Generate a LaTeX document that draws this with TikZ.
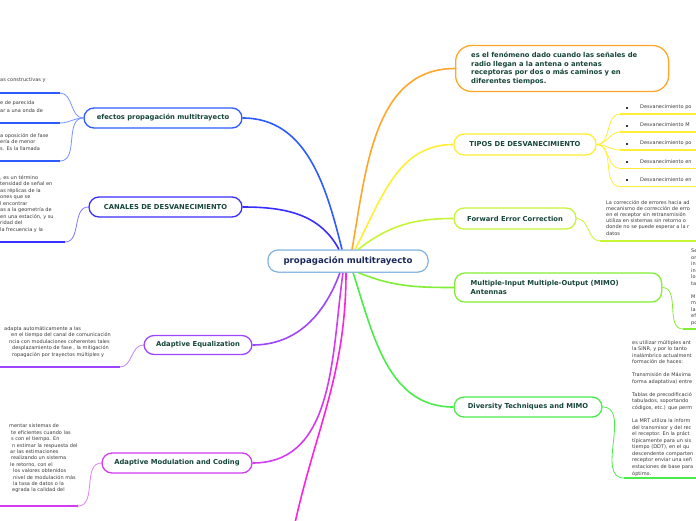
\documentclass[tikz,border=0pt]{standalone}
\usepackage{fontspec}
\setmainfont{DejaVu Sans}
\definecolor{hubC}{HTML}{7AAFE0}
\definecolor{hubT}{HTML}{1B2A5A}
\definecolor{nodeT}{HTML}{17463A}
\definecolor{smallT}{HTML}{3A3A3A}
\definecolor{orC}{HTML}{FFA62B}
\definecolor{yeC}{HTML}{FFEE33}
\definecolor{fecC}{HTML}{C6F535}
\definecolor{mimoC}{HTML}{82EE35}
\definecolor{divC}{HTML}{4CEB4C}
\definecolor{magC}{HTML}{FF22DD}
\definecolor{amcC}{HTML}{D43BF0}
\definecolor{aeC}{HTML}{9D45FF}
\definecolor{canC}{HTML}{3A2EFF}
\definecolor{efC}{HTML}{2E5BFF}
\begin{document}
\begin{tikzpicture}[x=1pt,y=-1pt,
  box/.style={draw, line width=1.3pt, fill=white, rounded corners=10pt,
    font=\fontsize{6.8}{8.5}\selectfont\bfseries, text=nodeT, inner sep=0pt},
  small/.style={font=\fontsize{5}{6.5}\selectfont, text=smallT, inner sep=0pt,
    anchor=north west, align=left},
  conn/.style={line width=1.6pt},
  subc/.style={line width=0.8pt},
  ul/.style={line width=1.8pt},
  hub/.style={draw=hubC, line width=1pt, fill=white, rounded corners=10pt, minimum width=160pt,
    minimum height=22pt, inner sep=0pt, text=hubT, font=\fontsize{8.6}{10}\selectfont\bfseries}]
\useasboundingbox (0,0) rectangle (696,520);
\clip (0,0) rectangle (696,520);

% ---------- nodes ----------
\node[hub] (c) at (348,261) {propagación multitrayecto};

\node[box, draw=orC, rounded corners=16pt, minimum height=46pt, anchor=west,
  text width=182pt, inner xsep=15.5pt, align=left] (or) at (455,68.5)
  {es el fenómeno dado cuando las señales de\\radio llegan a la antena o antenas\\receptoras por dos o más caminos y en\\diferentes tiempos.};
\node[box, draw=yeC, minimum width=142pt, minimum height=21pt] (tip) at (525,144.5) {TIPOS DE DESVANECIMIENTO};
\node[box, draw=fecC, minimum width=122pt, minimum height=21pt] (fec) at (515,218.5) {Forward Error Correction};
\node[box, draw=mimoC, minimum height=29pt, anchor=west, text width=175pt, inner xsep=16pt, align=left]
  (mimo) at (454,287.5) {Multiple-Input Multiple-Output (MIMO)\\Antennas};
\node[box, draw=divC, minimum width=148pt, minimum height=20pt] (div) at (528,407) {Diversity Techniques and MIMO};

\node[box, draw=efC, minimum width=158pt, minimum height=20pt] (ef) at (163,118) {efectos propagación multitrayecto};
\node[box, draw=canC, minimum width=153pt, minimum height=20pt] (can) at (165.5,207) {CANALES DE DESVANECIMIENTO};
\node[box, draw=aeC, minimum width=108pt, minimum height=19pt] (ae) at (198,345) {Adaptive Equalization};
\node[box, draw=amcC, minimum width=150pt, minimum height=20pt] (amc) at (177,463) {Adaptive Modulation and Coding};

\coordinate (magend) at (293,532);

% ---------- main connectors ----------
\draw[conn, orC]   ([xshift=4pt]c.north)  to[out=80,in=180]  (or.west);
\draw[conn, yeC]   ([xshift=7pt]c.north)  to[out=62,in=180]  (tip.west);
\draw[conn, fecC]  ([xshift=10pt]c.north) to[out=38,in=180]  (fec.west);
\draw[conn, mimoC] ([xshift=10pt]c.south) to[out=-22,in=180] (mimo.west);
\draw[conn, divC]  ([xshift=5pt]c.south)  to[out=-72,in=180] (div.west);
\draw[conn, magC]  ([xshift=-2pt]c.south) to[out=-90,in=78]  (magend);
\draw[conn, amcC]  ([xshift=-5pt]c.south) to[out=-98,in=0]   (amc.east);
\draw[conn, aeC]   ([xshift=-8pt]c.south) to[out=-110,in=0]  (ae.east);
\draw[conn, canC]  ([xshift=-9pt]c.north) to[out=118,in=0]   (can.east);
\draw[conn, efC]   ([xshift=-6pt]c.north) to[out=104,in=0]   (ef.east);

% hub drawn again on top of the connector ends
\node[hub] at (c) {propagación multitrayecto};

% ---------- TIPOS ----------
\foreach \y/\t [count=\i] in {108.5/Desvanecimiento po,126.5/Desvanecimiento M,144.5/Desvanecimiento po,163/Desvanecimiento en,181/Desvanecimiento en}{
  \coordinate (t\i) at (620,\y+5.5);
  \draw[subc, yeC] (tip.east) to[out=0,in=180] (t\i);
  \draw[ul, yeC] (t\i) -- ++(80,0);
  \node[small, anchor=base west] (tt\i) at (626,\y) {\rule{1.7pt}{1.7pt}\hspace{12.3pt}\t};
}

% ---------- FEC ----------
\coordinate (f1) at (600,241);
\draw[subc, fecC] (fec.east) to[out=0,in=180] (f1);
\draw[ul, fecC] (f1) -- ++(100,0);
\node[small, font=\fontsize{5}{6.2}\selectfont] (fect) at (606,199.8)
  {La corrección de errores hacia ad\\mecanismo de corrección de erro\\en el receptor sin retransmisión\\utiliza en sistemas sin retorno o\\donde no se puede esperar a la r\\datos};

% ---------- MIMO ----------
\coordinate (m1) at (683,329);
\draw[subc, mimoC] (mimo.east) to[out=0,in=180] (m1);
\draw[ul, mimoC] (m1) -- ++(20,0);
\node[small, font=\fontsize{5}{6.5}\selectfont] (mimot) at (691,248.8)
  {Se\\or\\in\\in\\lo\\ta\\\mbox{}\\M\\m\\la\\ef\\po};

% ---------- Diversity ----------
\coordinate (d1) at (624,478);
\draw[subc, divC] (div.east) to[out=0,in=180] (d1);
\draw[ul, divC] (d1) -- ++(80,0);
\node[small, font=\fontsize{5}{6.55}\selectfont] (divt) at (632,339.8)
  {es utilizar múltiples ant\\la SINR, y por lo tanto\\inalámbrico actualment\\formación de haces:\\\mbox{}\\Transmisión de Máxima\\forma adaptativa) entre\\\mbox{}\\Tablas de precodificació\\tabulados, soportando\\códigos, etc.) que perm\\\mbox{}\\La MRT utiliza la inform\\del transmisor y del rec\\el receptor.  En la práct\\típicamente para un sis\\tiempo (DDT), en el qu\\descendente comparten\\receptor enviar una señ\\estaciones de base para\\óptimo.};

% ---------- efectos ----------
\coordinate (e1) at (60,93);
\coordinate (e2) at (60,123);
\coordinate (e3) at (60,161);
\foreach \k in {1,2,3}{
  \draw[subc, efC!65] (ef.west) to[out=180,in=0] (e\k);
  \draw[ul, efC] (e\k) -- ++(-64,0);
}
\node[small] (ef1) at (0,77.8) {as constructivas y};
\node[small, font=\fontsize{5}{7.7}\selectfont] (ef2) at (0,100.8) {e de parecida\\ar a una onda de};
\node[small, font=\fontsize{5}{6.7}\selectfont] (ef3) at (0,132.8) {a oposición de fase\\ería de menor\\s. Es la llamada};

% ---------- CANALES ----------
\coordinate (k1) at (65,242);
\draw[subc, canC!65] (can.west) to[out=180,in=0] (k1);
\draw[ul, canC] (k1) -- ++(-70,0);
\node[small] (cant) at (0,174.8)
  {, es un término\\tensidad de señal en\\as réplicas de la\\ones que se\\l encontrar\\as a la geometría de\\en una estación, y su\\ridad del\\ la frecuencia y la};

% ---------- Adaptive Equalization ----------
\coordinate (a1) at (120,367);
\draw[subc, aeC!65] (ae.west) to[out=180,in=0] (a1);
\draw[ul, aeC] (a1) -- ++(-125,0);
\node[small] (aet) at (4,325.8)
  {adapta automáticamente a las\\\hspace*{7pt}en el tiempo del canal de comunicación\\\hspace*{5pt}ncia con modulaciones coherentes tales\\\hspace*{8pt}desplazamiento de fase , la mitigación\\\hspace*{8pt}ropagación por trayectos múltiples y};

% ---------- Adaptive Modulation ----------
\coordinate (b1) at (78,506);
\draw[subc, amcC!65] (amc.west) to[out=180,in=0] (b1);
\draw[ul, amcC] (b1) -- ++(-83,0);
\node[small, font=\fontsize{5}{6.4}\selectfont] (amct) at (9,423.8)
  {mentar sistemas de\\\hspace*{2pt}te eficientes cuando las\\\hspace*{2pt}s con el tiempo. En\\\hspace*{3pt}n estimar la respuesta del\\\hspace*{1pt}ar las estimaciones\\\hspace*{2pt}realizando un sistema\\\hspace*{1pt}le retorno, con el\\\hspace*{4pt}los valores obtenidos\\\hspace*{4pt}nivel de modulación más\\\hspace*{4pt}la tasa de datos o la\\\hspace*{3pt}egrada la calidad del};
\end{tikzpicture}
\end{document}
